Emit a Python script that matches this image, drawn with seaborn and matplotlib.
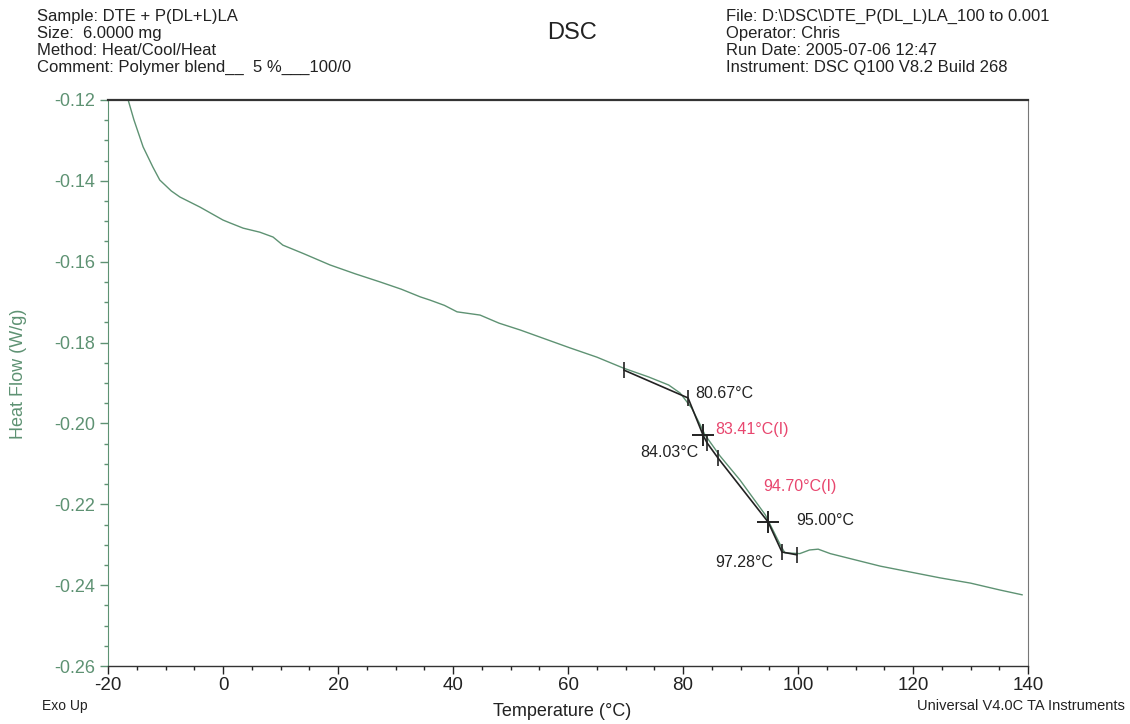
import matplotlib
matplotlib.use('Agg')
import matplotlib.pyplot as plt
from matplotlib.ticker import MultipleLocator
import seaborn as sns
import pandas as pd

# DSC curve
temp = [-16.5, -15.5, -13.9, -12.2, -11.0, -9.0, -7.5, -4.0, 0.0, 1.2, 3.5, 6.4, 8.7, 10.4,
        14.0, 18.6, 23.0, 27.3, 31.0, 34.3, 36.0, 38.5, 40.7, 44.7, 48.0, 51.7, 56.0, 60.3,
        65.0, 69.6, 74.0, 77.5, 79.5, 81.5, 83.0, 83.8, 86.4, 89.9, 94.3, 96.9, 97.7,
        100.3, 102.0, 103.5, 105.6, 114.3, 124.7, 130.0, 135.1, 139.0]
heat_flow = [-0.1200, -0.1249, -0.1316, -0.1366, -0.1398, -0.1425, -0.1440, -0.1465, -0.1497,
             -0.1504, -0.1517, -0.1527, -0.1539, -0.1559, -0.1580, -0.1608, -0.1630, -0.1650,
             -0.1668, -0.1687, -0.1695, -0.1708, -0.1724, -0.1732, -0.1752, -0.1769, -0.1791,
             -0.1813, -0.1836, -0.1863, -0.1885, -0.1905, -0.1925, -0.1962, -0.2004, -0.2028,
             -0.2080, -0.2140, -0.2226, -0.2300, -0.2320, -0.2322, -0.2313, -0.2311, -0.2322,
             -0.2353, -0.2382, -0.2395, -0.2412, -0.2424]

# glass transition analysis construction
tang_t = [69.7, 80.87, 83.48, 84.17, 86.1, 94.8, 97.2, 99.8]
tang_hf = [-0.1868, -0.1937, -0.2029, -0.2048, -0.2086, -0.2244, -0.2318, -0.2325]
tick_t = [69.7, 80.87, 84.17, 86.1, 97.2, 99.8]
tick_hf = [-0.1868, -0.1937, -0.2048, -0.2086, -0.2318, -0.2325]
cross_t = [83.48, 94.8]
cross_hf = [-0.2029, -0.2244]

# annotations: text, x, y, colour, alignment
notes = [
    ('80.67°C', 82.1, -0.1925, '#222222', 'left'),
    ('83.41°C(I)', 85.6, -0.2016, '#e8466e', 'left'),
    ('84.03°C', 82.7, -0.2073, '#222222', 'right'),
    ('94.70°C(I)', 94.0, -0.2157, '#e8466e', 'left'),
    ('95.00°C', 99.6, -0.2241, '#222222', 'left'),
    ('97.28°C', 95.7, -0.2345, '#222222', 'right'),
]

header_left = ['Sample: DTE + P(DL+L)LA', 'Size:  6.0000 mg', 'Method: Heat/Cool/Heat',
               'Comment: Polymer blend__  5 %___100/0']
header_right = ['File: D:\\DSC\\DTE_P(DL_L)LA_100 to 0.001', 'Operator: Chris',
                'Run Date: 2005-07-06 12:47', 'Instrument: DSC Q100 V8.2 Build 268']

green = '#5e9273'
sns.set_style('white')
plt.rcParams['font.family'] = ['Liberation Sans', 'DejaVu Sans']
plt.rcParams['axes.unicode_minus'] = False

fig = plt.figure(figsize=(11.3, 7.24), dpi=100)
ax = fig.add_axes([0.0956, 0.0801, 0.8142, 0.7818])

curve = pd.DataFrame({'T': temp, 'HF': heat_flow})
sns.lineplot(data=curve, x='T', y='HF', ax=ax, color=green, linewidth=1.0, sort=False)

ax.plot(tang_t, tang_hf, color='#222222', linewidth=1.2)
ax.plot(tick_t, tick_hf, linestyle='none', marker='|', markersize=12, color='#222222', mew=1.2)
ax.plot(cross_t, cross_hf, linestyle='none', marker='+', markersize=16, color='#222222', mew=1.4)

for txt, x, y, c, ha in notes:
    ax.text(x, y, txt, color=c, ha=ha, va='center', fontsize=11.5)

ax.set_xlim(-20, 140)
ax.set_ylim(-0.26, -0.12)
ax.xaxis.set_major_locator(MultipleLocator(20))
ax.xaxis.set_minor_locator(MultipleLocator(5))
ax.yaxis.set_major_locator(MultipleLocator(0.02))
ax.yaxis.set_minor_locator(MultipleLocator(0.005))
ax.set_yticklabels([f'{v:.2f}' for v in ax.get_yticks()])
ax.tick_params(axis='x', which='both', bottom=True, direction='out')
ax.tick_params(axis='y', which='both', left=True, direction='out')
ax.tick_params(axis='x', which='major', length=6, width=1, labelsize=13.5, colors='#222222', pad=2)
ax.tick_params(axis='x', which='minor', length=3, width=1, colors='#222222')
ax.tick_params(axis='y', which='major', length=6, width=1, labelsize=13, colors=green, pad=3)
ax.tick_params(axis='y', which='minor', length=3, width=1, colors=green)
for s in ax.spines.values():
    s.set_visible(True)
ax.spines['left'].set_color(green)
ax.spines['top'].set_color('#333333')
ax.spines['top'].set_linewidth(1.6)
ax.spines['right'].set_color('#777777')
ax.spines['right'].set_linewidth(0.8)
ax.spines['bottom'].set_color('#333333')
ax.spines['bottom'].set_linewidth(1.0)

ax.set_xlabel('Temperature (°C)', fontsize=13, color='#222222')
ax.set_ylabel('Heat Flow (W/g)', fontsize=13, color=green)
ax.xaxis.set_label_coords(0.4935, -0.066)
ax.yaxis.set_label_coords(-0.088, 0.516)

for i, line in enumerate(header_left):
    fig.text(37 / 1130, 1 - (16 + 17.3 * i) / 724, line, fontsize=12, va='center', ha='left', color='#222222')
for i, line in enumerate(header_right):
    fig.text(726 / 1130, 1 - (16 + 17.3 * i) / 724, line, fontsize=12, va='center', ha='left', color='#222222')
fig.text(572 / 1130, 1 - 33 / 724, 'DSC', fontsize=17, ha='center', va='center', color='#222222')
fig.text(42 / 1130, 1 - 706 / 724, 'Exo Up', fontsize=10, ha='left', va='center', color='#222222')
fig.text(1125 / 1130, 1 - 706 / 724, 'Universal V4.0C TA Instruments', fontsize=10.5, ha='right',
         va='center', color='#222222')

plt.savefig('out.png', dpi=100)
